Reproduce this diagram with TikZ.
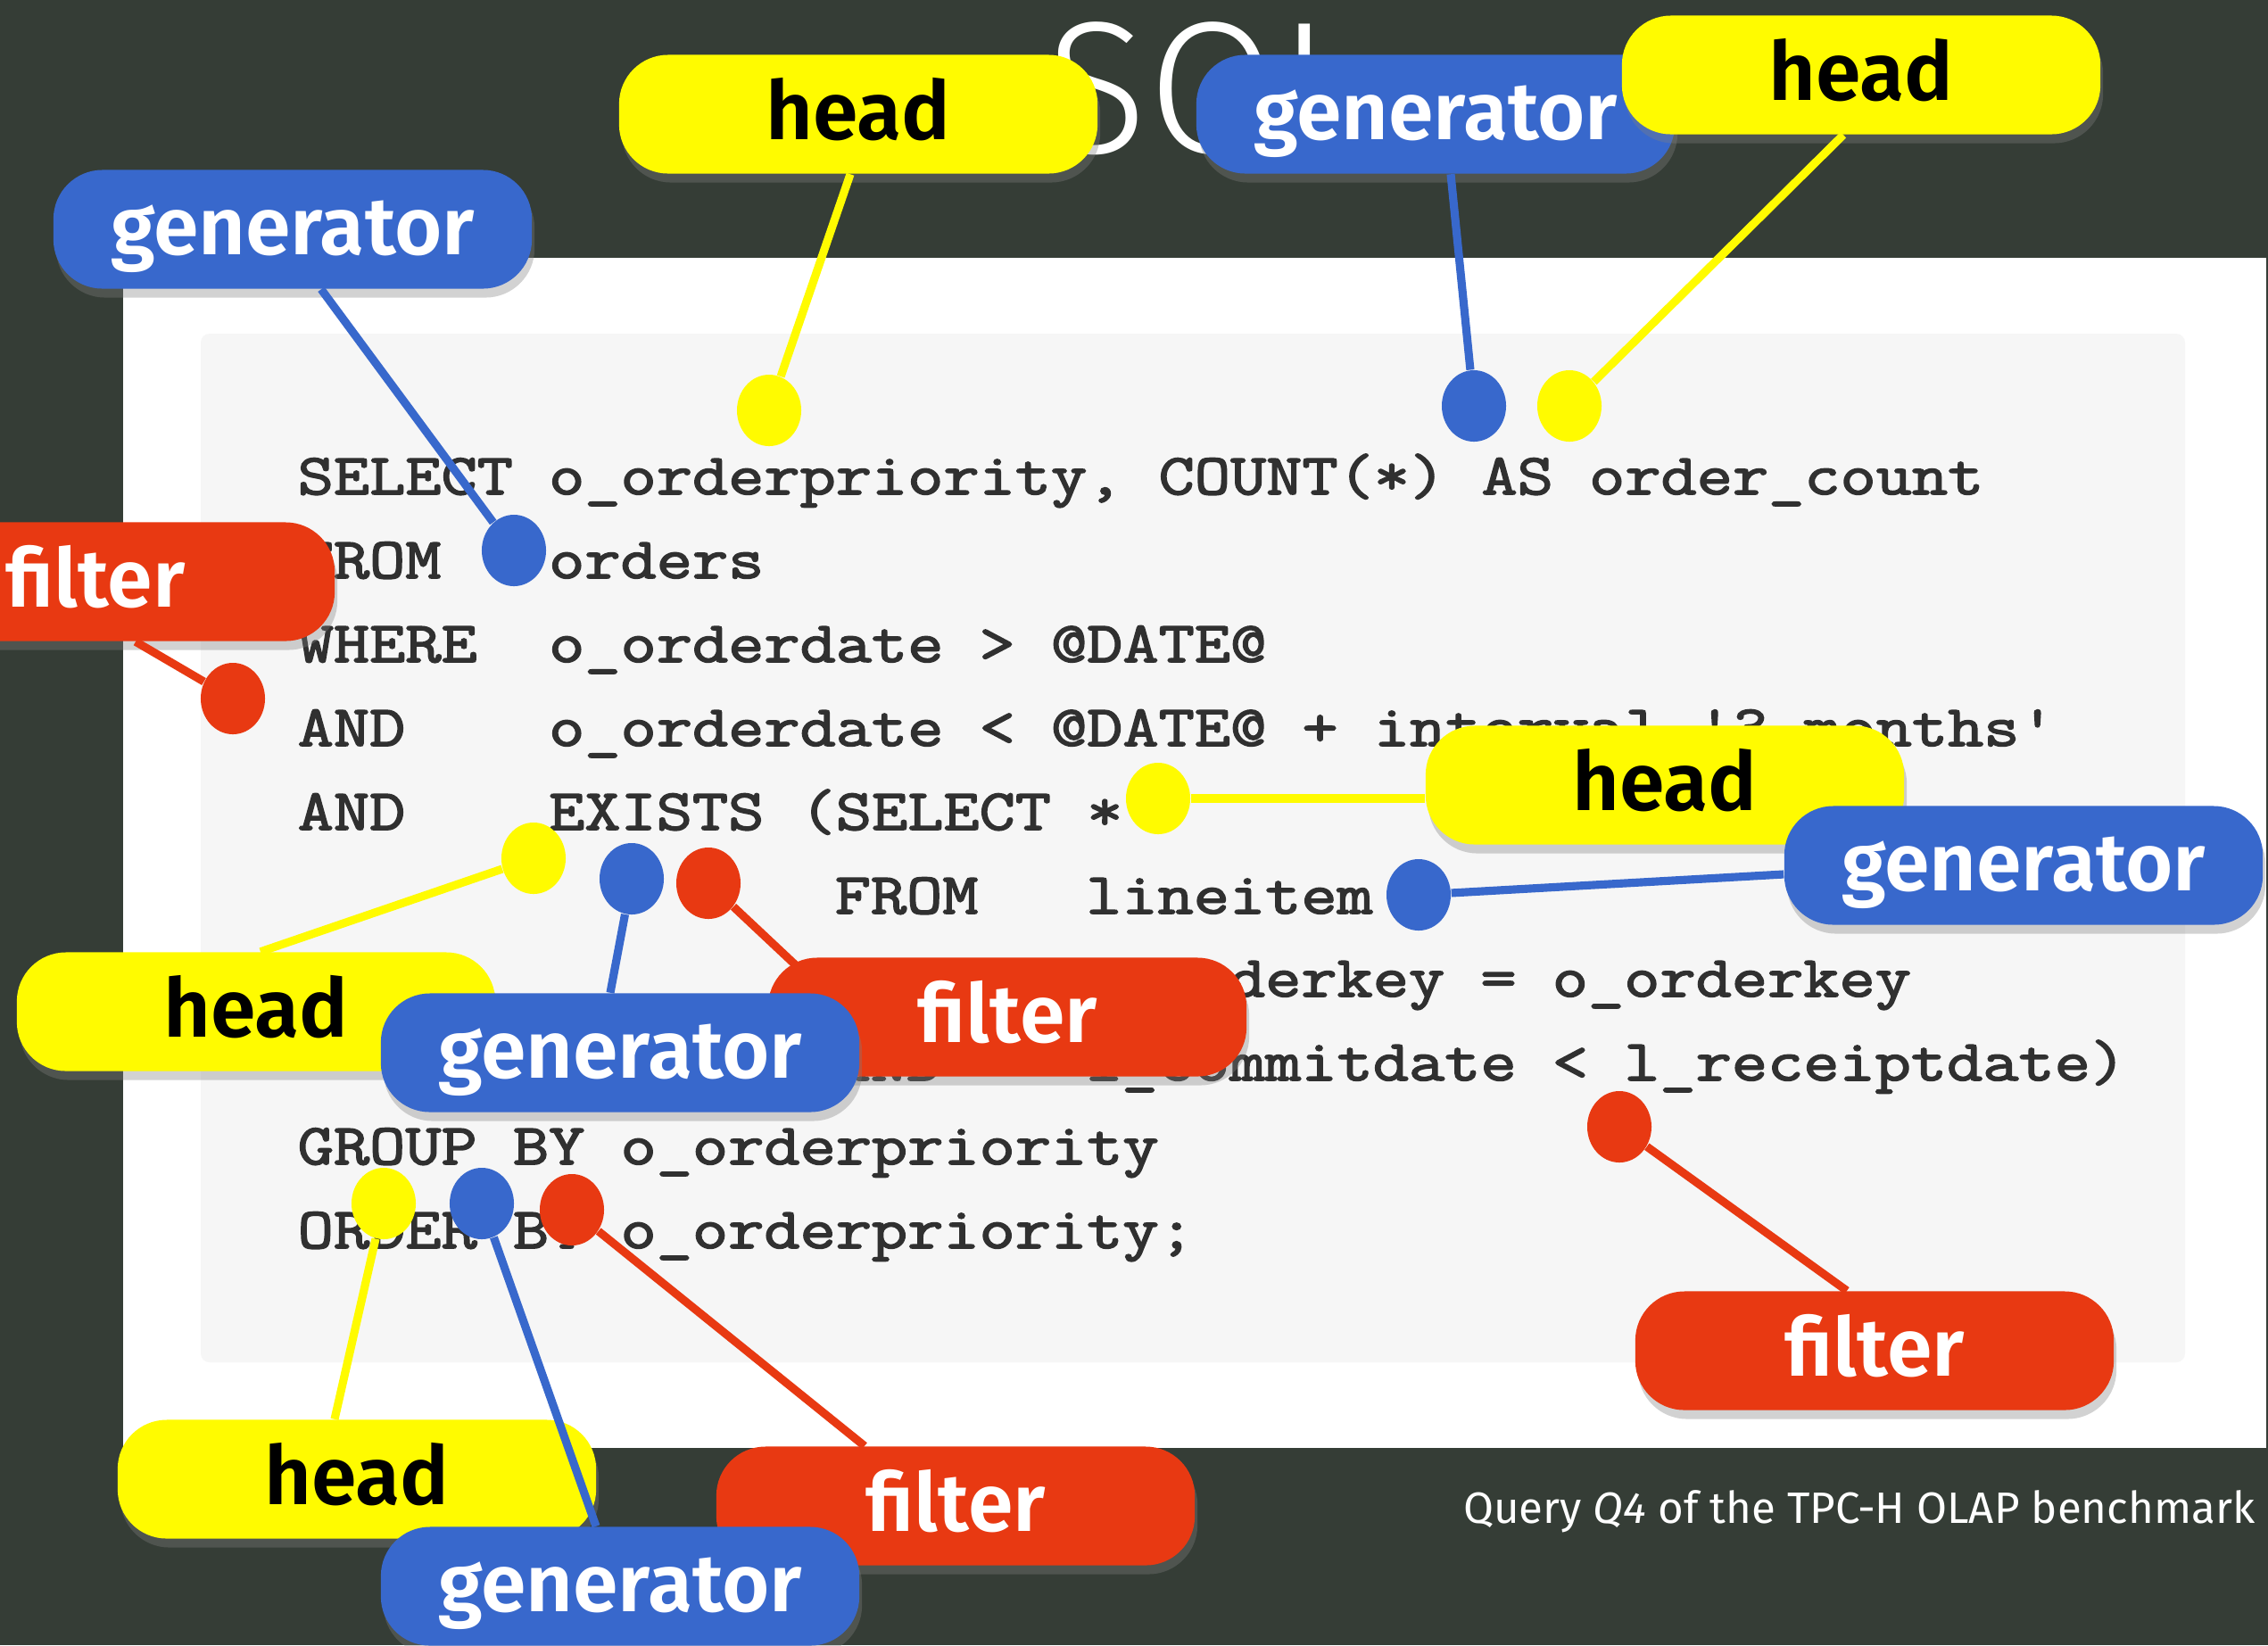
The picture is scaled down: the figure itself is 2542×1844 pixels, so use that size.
\documentclass[tikz,border=0pt]{standalone}
\usepackage{fontspec}
\setmainfont{Fira Sans}
\newfontfamily\labelfont{Fira Sans SemiBold}
\newfontfamily\titlefont{Fira Sans Light}
\newfontfamily\codefont{Latin Modern Mono}[FakeStretch=1.2,FakeBold=2.5]
\usetikzlibrary{calc,shadows,shapes.geometric}

\definecolor{slate}{RGB}{53,61,54}
\definecolor{codebg}{RGB}{246,246,246}
\definecolor{codeink}{RGB}{48,48,48}
\definecolor{hyellow}{RGB}{255,251,0}
\definecolor{gblue}{RGB}{56,104,204}
\definecolor{fred}{RGB}{232,57,18}

\tikzset{
  tag/.style={rectangle, rounded corners=0.55cm, minimum width=5.36cm,
    minimum height=1.33cm, inner sep=0pt, text height=0.7cm, text depth=0.14cm,
    font=\labelfont\fontsize{26}{28}\selectfont,
    drop shadow={opacity=0.35, shadow xshift=0.03cm, shadow yshift=-0.1cm}},
  headtag/.style={tag, fill=hyellow, text=black},
  gentag/.style={tag, fill=gblue, text=white},
  filtertag/.style={tag, fill=fred, text=white},
  blob/.style={ellipse, minimum width=0.72cm, minimum height=0.8cm, inner sep=0pt, fill=#1},
  pin/.style={line width=2.6pt, draw=#1},
  codeline/.style={anchor=base west, inner sep=0pt, text=codeink,
    font=\codefont\fontsize{18.5}{20}\selectfont},
}

\begin{document}
\frenchspacing
\begin{tikzpicture}[x=0.01cm, y=-0.01cm]
  \useasboundingbox (0,0) rectangle (2542,1844);
  \fill[slate] (0,0) rectangle (2542,1844);
  \fill[white] (138,289) rectangle (2540,1623);
  \fill[codebg, rounded corners=0.1cm] (225,374) rectangle (2449,1527);

  \node[anchor=base west, inner sep=0pt, text=white,
    font=\titlefont\fontsize{60}{60}\selectfont] (title) at (1172,171) {SQL};

  % the query
  \node[codeline] (l1) at (333,554) {SELECT o\_orderpriority, COUNT(*) AS order\_count};
  \node[codeline] (l2) at (333,648) {FROM~~~orders};
  \node[codeline] (l3) at (333,742) {WHERE~~o\_orderdate > @DATE@};
  \node[codeline] (l4) at (333,836) {AND~~~~o\_orderdate < @DATE@ + interval '3 months'};
  \node[codeline] (l5) at (333,930) {AND~~~~EXISTS (SELECT *};
  \node[codeline] (l6) at (935,1024) {FROM~~~lineitem};
  \node[codeline] (l7) at (935,1117) {WHERE~~l\_orderkey = o\_orderkey};
  \node[codeline] (l8) at (935,1211) {AND~~~~l\_commitdate < l\_receiptdate)};
  \node[codeline] (l9) at (333,1305) {GROUP BY o\_orderpriority};
  \node[codeline] (l10) at (333,1399) {ORDER BY o\_orderpriority;};

  % top row
  \node[blob=gblue] (dorders) at (576,617) {};
  \node[gentag] (genorders) at (328,257) {generator};
  \draw[pin=gblue] ($(genorders.south)+(32,0)$) -- (dorders);

  \node[blob=hyellow] (dprio) at (862,460) {};
  \node[headtag] (headprio) at (962,128) {head};
  \draw[pin=hyellow] ($(headprio.south)+(-9,0)$) -- (dprio);

  \node[blob=gblue] (dcount) at (1652,455) {};
  \node[gentag] (gencount) at (1609,128) {generator};
  \draw[pin=gblue] ($(gencount.south)+(17,0)$) -- (dcount);

  \node[blob=hyellow] (dcounthead) at (1759,455) {};
  \node[headtag] (headcount) at (2086,84) {head};
  \draw[pin=hyellow] ($(headcount.south)+(-20,0)$) -- (dcounthead);

  % where clause
  \node[blob=fred] (dwhere) at (261,783) {};
  \node[filtertag] (filterwhere) at (107,652) {filter};
  \draw[pin=fred] ($(filterwhere.south)+(45,0)$) -- (dwhere);

  % subquery
  \node[blob=hyellow] (dstar) at (1298,895) {};
  \node[headtag] (headexists) at (1866,880) {head};
  \draw[pin=hyellow] ($(headexists.west)+(0,15)$) -- (dstar);

  \node[blob=gblue] (dlineitem) at (1590,1003) {};
  \node[gentag] (genlineitem) at (2268,970) {generator};
  \draw[pin=gblue] ($(genlineitem.west)+(0,10)$) -- (dlineitem);

  \node[blob=hyellow] (dsubhead) at (598,962) {};
  \node[headtag] (headsub) at (287,1134) {head};
  \draw[pin=hyellow] ($(headsub.north)+(5,0)$) -- (dsubhead);

  \node[blob=fred] (dsubfilter) at (794,990) {};
  \node[filtertag] (filtersub) at (1129,1140) {filter};
  \draw[pin=fred] ($(filtersub.north west)+(38,15)$) -- (dsubfilter);

  \node[blob=gblue] (dsubgen) at (708,985) {};
  \node[gentag] (gensub) at (695,1180) {generator};
  \draw[pin=gblue] ($(gensub.north)+(-11,0)$) -- (dsubgen);

  \node[blob=fred] (ddate) at (1815,1263) {};
  \node[filtertag] (filterdate) at (2101,1514) {filter};
  \draw[pin=fred] ($(filterdate.north)+(-31,0)$) -- (ddate);

  % group by / order by
  \node[blob=hyellow] (dgrouphead) at (430,1349) {};
  \node[headtag] (headgroup) at (400,1658) {head};
  \draw[pin=hyellow] ($(headgroup.north)+(-25,0)$) -- (dgrouphead);

  \node[blob=fred] (dgroupfilter) at (641,1356) {};
  \node[filtertag] (filtergroup) at (1071,1688) {filter};
  \draw[pin=fred] ($(filtergroup.north)+(-102,0)$) -- (dgroupfilter);

  \node[blob=gblue] (dgroupgen) at (540,1349) {};
  \node[gentag] (gengroup) at (695,1778) {generator};
  \draw[pin=gblue] ($(gengroup.north)+(-27,0)$) -- (dgroupgen);

  \node[anchor=base east, inner sep=0pt, text=white,
    font=\fontsize{14}{16}\selectfont] (caption) at (2528,1707)
    {Query \textit{Q4} of the TPC-H OLAP benchmark};
\end{tikzpicture}
\end{document}
